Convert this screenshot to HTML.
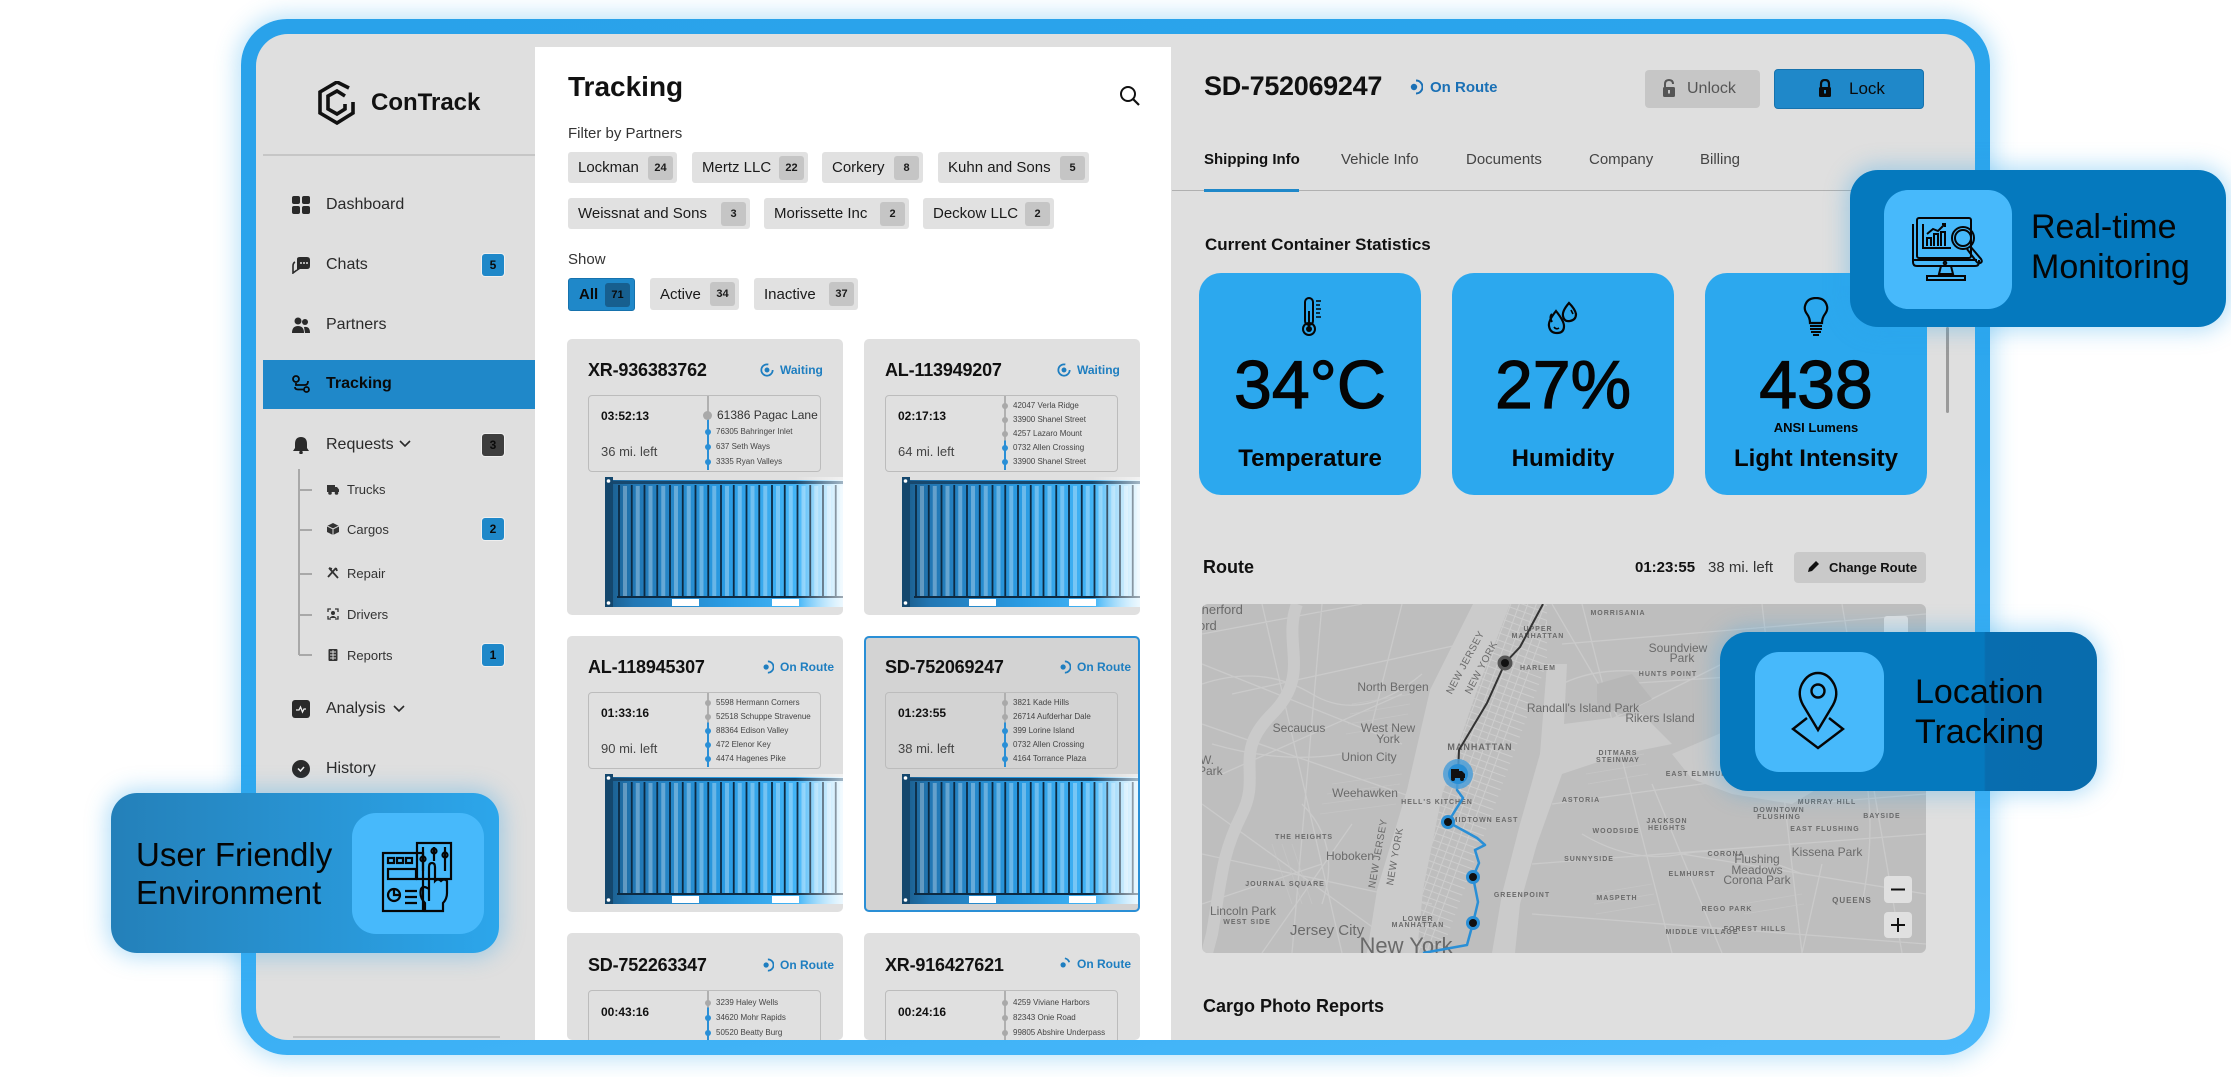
<!DOCTYPE html>
<html><head><meta charset="utf-8">
<style>
*{box-sizing:border-box;margin:0;padding:0}
body{width:2231px;height:1077px;background:#fff;overflow:hidden;position:relative;font-family:"Liberation Sans",Arial,sans-serif;color:#111}
.a{position:absolute}
.t{position:absolute;white-space:nowrap;line-height:1}
.frame{position:absolute;left:241px;top:19px;width:1749px;height:1036px;border-radius:46px;background:linear-gradient(170deg,#29a2ea 0%,#2ea8ef 55%,#4ab9fb 100%);box-shadow:0 0 22px 5px rgba(43,164,234,.30)}
.screen{position:absolute;left:256px;top:34px;width:1719px;height:1006px;border-radius:32px;background:#dfdfdf;overflow:hidden}
.page{position:absolute;left:-256px;top:-34px;width:2231px;height:1077px;overflow:hidden}
.mi{position:absolute;left:326px;font-size:16px;line-height:16px;color:#2a2a2a;white-space:nowrap}
.ic{position:absolute;left:292px;width:18px;height:18px}
.si{position:absolute;left:347px;font-size:13px;line-height:13px;color:#333;white-space:nowrap}
.sic{position:absolute;left:327px;width:12px;height:12px}
.bd{position:absolute;left:482px;width:22px;height:22px;border-radius:3px;background:#1f88c9;font-size:12px;font-weight:bold;line-height:22px;text-align:center;color:#0a0a0a;box-shadow:0 0 0 1px rgba(255,255,255,.5)}
.chip{position:absolute;height:31px;background:#e1e1e1;border-radius:3px;display:flex;align-items:center;justify-content:space-between;padding:0 4px 0 10px;font-size:15px;color:#1a1a1a;white-space:nowrap}
.chip b{display:block;width:25px;height:24px;background:#c5c5c5;border-radius:3px;font-size:11px;line-height:24px;text-align:center;color:#1a1a1a}
.card{position:absolute;width:276px;height:276px;background:#e0e0e0;border-radius:5px;overflow:hidden}
.ct{position:absolute;left:21px;top:22px;font-size:18px;font-weight:bold;line-height:18px;letter-spacing:-.2px;white-space:nowrap}
.st{position:absolute;left:193px;top:24px;height:14px;display:flex;align-items:center;gap:6px;font-size:12px;color:#1e7ec0;font-weight:bold;white-space:nowrap}
.ib{position:absolute;left:21px;top:56px;width:233px;height:77px;border:1.5px solid #bcbcbc;border-radius:4px}
.tm{position:absolute;left:12px;top:14px;font-size:12px;line-height:12px;font-weight:bold;white-space:nowrap}
.ml{position:absolute;left:12px;top:49px;font-size:13px;line-height:13px;color:#444;white-space:nowrap}
.vl{position:absolute;left:118px;top:0;width:2px;height:74px}
.ad{position:absolute;left:116px;font-size:8px;line-height:8px;color:#444;display:flex;align-items:center;gap:5px;white-space:nowrap}
.ad i{display:block;width:6px;height:6px;border-radius:50%;background:#2a8fd6}
.ad i.g{background:#a9a9a9}
.cont{position:absolute;left:38px;top:138px;width:238px;height:130px}
.tab{position:absolute;top:152px;font-size:15px;line-height:15px;color:#444;white-space:nowrap}
.sc{position:absolute;top:273px;width:222px;height:222px;border-radius:22px;background:#2ca8ee}
.sc .ico{position:absolute;left:91px;top:24px;width:40px;height:40px}
.sc .num{position:absolute;left:0;width:100%;top:78px;font-size:68px;line-height:68px;text-align:center;color:#050505;-webkit-text-stroke:1.2px #050505}
.sc .lb{position:absolute;left:0;width:100%;top:174px;font-size:24px;line-height:24px;font-weight:bold;text-align:center;color:#050505}
.feat{position:absolute;border-radius:28px;box-shadow:0 0 22px 4px rgba(43,164,234,.35)}
.fbox{position:absolute;border-radius:24px;background:#47b9fb}
.ft{position:absolute;font-size:34px;line-height:40px;color:#050505;white-space:nowrap}
</style></head><body>

<div class="frame"></div>
<div class="screen"><div class="page">

<!-- SIDEBAR -->
<svg class="a" style="left:318px;top:81px" width="38" height="44" viewBox="0 0 38 44">
<polyline points="31,7 19,1 2,11 2,32 19,42 35,32 35,21" fill="none" stroke="#111" stroke-width="3.6" stroke-linejoin="miter"/>
<polyline points="27,15 19,10 10,15 10,28 19,33 27,28 27,23" fill="none" stroke="#111" stroke-width="3.6"/>
</svg>
<div class="t" style="left:371px;top:91px;font-size:24px;font-weight:bold;color:#111">ConTrack</div>
<div class="a" style="left:263px;top:154px;width:272px;height:2px;background:#c6c6c6"></div>

<svg class="ic" style="top:196px" viewBox="0 0 18 18"><rect x="0" y="0" width="8" height="8" rx="2" fill="#2a2a2a"/><rect x="10" y="0" width="8" height="8" rx="2" fill="#2a2a2a"/><rect x="0" y="10" width="8" height="8" rx="2" fill="#2a2a2a"/><rect x="10" y="10" width="8" height="8" rx="2" fill="#2a2a2a"/></svg>
<div class="mi" style="top:197px">Dashboard</div>

<svg class="ic" style="top:256px" viewBox="0 0 18 18"><path d="M5 3 Q5 1 8 1 H15 Q18 1 18 4 V10 Q18 13 15 13 H8 L5 15 Z" fill="#2a2a2a"/><path d="M3 6 Q1 7 1 10 V17 L5 14" fill="none" stroke="#2a2a2a" stroke-width="1.6"/><circle cx="9" cy="7" r="1" fill="#ddd"/><circle cx="12" cy="7" r="1" fill="#ddd"/><circle cx="15" cy="7" r="1" fill="#ddd"/></svg>
<div class="mi" style="top:257px">Chats</div>
<div class="bd" style="top:254px">5</div>

<svg class="ic" style="top:316px" viewBox="0 0 18 18"><circle cx="6" cy="5" r="3.5" fill="#2a2a2a"/><circle cx="13" cy="6" r="3" fill="#2a2a2a"/><path d="M0 17 Q0 10 6 10 Q12 10 12 17 Z" fill="#2a2a2a"/><path d="M12 11 Q18 10 18 17 H13 Z" fill="#2a2a2a"/></svg>
<div class="mi" style="top:317px">Partners</div>

<div class="a" style="left:263px;top:360px;width:272px;height:49px;background:#1f88c9"></div>
<svg class="ic" style="top:375px" viewBox="0 0 18 18"><circle cx="4" cy="4" r="3" fill="none" stroke="#0a0a0a" stroke-width="1.8"/><circle cx="14.5" cy="14.5" r="2.5" fill="none" stroke="#0a0a0a" stroke-width="1.8"/><path d="M4 8 V10 H13 Q16 10 16 6 M12 14.5 H6 Q3 14.5 3 12" fill="none" stroke="#0a0a0a" stroke-width="1.8"/></svg>
<div class="mi" style="top:376px;font-weight:bold;color:#0a0a0a">Tracking</div>

<svg class="ic" style="top:436px" viewBox="0 0 18 18"><path d="M9 1 Q3 1 3 8 V12 L1 15 H17 L15 12 V8 Q15 1 9 1 Z" fill="#2a2a2a"/><circle cx="9" cy="16.5" r="1.8" fill="#2a2a2a"/></svg>
<div class="mi" style="top:437px">Requests</div>
<svg class="a" style="left:399px;top:440px" width="12" height="8" viewBox="0 0 12 8"><path d="M1 1 L6 6 L11 1" fill="none" stroke="#2a2a2a" stroke-width="1.6"/></svg>
<div class="bd" style="top:434px;background:#3e3e3e">3</div>

<div class="a" style="left:298px;top:469px;width:1.5px;height:186px;background:#a8a8a8"></div>
<div class="a" style="left:299px;top:489px;width:13px;height:1.5px;background:#a8a8a8"></div>
<div class="a" style="left:299px;top:529px;width:13px;height:1.5px;background:#a8a8a8"></div>
<div class="a" style="left:299px;top:573px;width:13px;height:1.5px;background:#a8a8a8"></div>
<div class="a" style="left:299px;top:614px;width:13px;height:1.5px;background:#a8a8a8"></div>
<div class="a" style="left:299px;top:654px;width:13px;height:1.5px;background:#a8a8a8"></div>

<svg class="sic" style="top:483px" viewBox="0 0 12 12"><rect x="0" y="2" width="8" height="7" fill="#333"/><path d="M8 4 H10 L12 6.5 V9 H8 Z" fill="#333"/><circle cx="3" cy="10" r="1.8" fill="#333"/><circle cx="9.5" cy="10" r="1.8" fill="#333"/></svg>
<div class="si" style="top:483px">Trucks</div>
<svg class="sic" style="top:523px" viewBox="0 0 12 12"><path d="M6 0 L12 3 V9 L6 12 L0 9 V3 Z" fill="#333"/><path d="M0 3 L6 6 L12 3 M6 6 V12" stroke="#ddd" stroke-width="1" fill="none"/></svg>
<div class="si" style="top:523px">Cargos</div>
<div class="bd" style="top:518px">2</div>
<svg class="sic" style="top:567px" viewBox="0 0 12 12"><path d="M2 1 L11 11 M9 1 L1 10 M2 1 L5 2 M9 1 L10 4" stroke="#333" stroke-width="1.8" fill="none"/></svg>
<div class="si" style="top:567px">Repair</div>
<svg class="sic" style="top:608px" viewBox="0 0 12 12"><path d="M1 4 V1 H4 M8 1 H11 V4 M11 8 V11 H8 M4 11 H1 V8" stroke="#333" stroke-width="1.3" fill="none"/><circle cx="6" cy="5" r="2" fill="#333"/><path d="M2.5 10 Q6 6 9.5 10 Z" fill="#333"/></svg>
<div class="si" style="top:608px">Drivers</div>
<svg class="sic" style="top:649px" viewBox="0 0 12 12"><rect x="1.5" y="0" width="9" height="12" rx="1" fill="#333"/><path d="M3 3 H9 M3 6 H9 M3 9 H9 M6 1 V11" stroke="#ddd" stroke-width=".9"/></svg>
<div class="si" style="top:649px">Reports</div>
<div class="bd" style="top:644px">1</div>

<svg class="ic" style="top:700px" viewBox="0 0 18 18"><rect x="0" y="0" width="18" height="18" rx="3" fill="#2a2a2a"/><path d="M4 10 L7 10 L8.5 7 L10.5 12 L12 9 L14 9" fill="none" stroke="#eee" stroke-width="1.3"/></svg>
<div class="mi" style="top:701px">Analysis</div>
<svg class="a" style="left:393px;top:705px" width="12" height="8" viewBox="0 0 12 8"><path d="M1 1 L6 6 L11 1" fill="none" stroke="#2a2a2a" stroke-width="1.6"/></svg>

<svg class="ic" style="top:760px" viewBox="0 0 18 18"><circle cx="9" cy="9" r="9" fill="#2a2a2a"/><path d="M6 8.5 L8.5 11 L12 7" fill="none" stroke="#eee" stroke-width="1.5"/></svg>
<div class="mi" style="top:761px">History</div>

<div class="a" style="left:293px;top:1036px;width:207px;height:1.5px;background:#c4c4c4"></div>

<!-- MIDDLE PANEL -->
<div class="a" style="left:535px;top:47px;width:636px;height:1000px;background:#fff"></div>
<div class="t" style="left:568px;top:73px;font-size:28px;font-weight:bold">Tracking</div>
<svg class="a" style="left:1119px;top:85px" width="22" height="22" viewBox="0 0 22 22"><circle cx="9" cy="9" r="7" fill="none" stroke="#111" stroke-width="2"/><path d="M14 14 L20 20" stroke="#111" stroke-width="2.2"/></svg>
<div class="t" style="left:568px;top:126px;font-size:15px;color:#333">Filter by Partners</div>

<div class="chip" style="left:568px;top:152px;width:109px">Lockman<b>24</b></div>
<div class="chip" style="left:692px;top:152px;width:116px">Mertz LLC<b>22</b></div>
<div class="chip" style="left:822px;top:152px;width:101px">Corkery<b>8</b></div>
<div class="chip" style="left:938px;top:152px;width:151px">Kuhn and Sons<b>5</b></div>
<div class="chip" style="left:568px;top:198px;width:182px">Weissnat and Sons<b>3</b></div>
<div class="chip" style="left:764px;top:198px;width:145px">Morissette Inc<b>2</b></div>
<div class="chip" style="left:923px;top:198px;width:131px">Deckow LLC<b>2</b></div>
<div class="t" style="left:568px;top:252px;font-size:15px;color:#333">Show</div>
<div class="chip" style="left:568px;top:278px;width:67px;height:33px;background:#1f88c9;border:1px solid #1672ad;font-weight:bold;color:#0a0a0a">All<b style="background:#175f8f;color:#0a0a0a">71</b></div>
<div class="chip" style="left:650px;top:278px;width:89px;height:32px">Active<b>34</b></div>
<div class="chip" style="left:754px;top:278px;width:104px;height:32px">Inactive<b>37</b></div>

<!-- Card 1 -->
<div class="card" style="left:567px;top:339px">
 <div class="ct">XR-936383762</div>
 <div class="st"><svg width="14" height="14" viewBox="0 0 16 16"><circle cx="8" cy="8" r="6.5" fill="none" stroke="#1e7ec0" stroke-width="2" stroke-dasharray="32 9"/><circle cx="8" cy="8" r="2.8" fill="#1e7ec0"/></svg><span>Waiting</span></div>
 <div class="ib">
  <div class="tm">03:52:13</div><div class="ml">36 mi. left</div>
  <div class="vl" style="background:linear-gradient(#b0b0b0 0 26%,#2a8fd6 26%)"></div>
  <div class="ad" style="top:13px;font-size:12px;line-height:12px;left:114px;color:#333"><i class="g" style="width:9px;height:9px"></i>61386 Pagac Lane</div>
  <div class="ad" style="top:32px"><i></i>76305 Bahringer Inlet</div>
  <div class="ad" style="top:47px"><i></i>637 Seth Ways</div>
  <div class="ad" style="top:62px"><i></i>3335 Ryan Valleys</div>
 </div>
 <svg class="cont" viewBox="0 0 238 130"><defs><linearGradient id="cg1" x1="0" x2="1"><stop offset="0" stop-color="#1a5a88"/><stop offset=".12" stop-color="#2277b4"/><stop offset=".5" stop-color="#2a9be2"/><stop offset=".82" stop-color="#45b6f7"/><stop offset="1" stop-color="#d4f0ff"/></linearGradient><linearGradient id="fd1" x1="0" x2="1"><stop offset="0" stop-color="#fff" stop-opacity="0"/><stop offset="1" stop-color="#fff" stop-opacity=".6"/></linearGradient></defs><rect x="0" y="3" width="238" height="127" fill="url(#cg1)"/><path d="M20 9V119M32.75 9V119M45.5 9V119M58.25 9V119M71 9V119M83.75 9V119M96.5 9V119M109.25 9V119M122 9V119M134.75 9V119M147.5 9V119M160.25 9V119M173 9V119M185.75 9V119M198.5 9V119M211.25 9V119M224 9V119M236.75 9V119" stroke="#fff" stroke-opacity=".3" stroke-width="4"/><path d="M14 8V120M26.75 8V120M39.5 8V120M52.25 8V120M65 8V120M77.75 8V120M90.5 8V120M103.25 8V120M116 8V120M128.75 8V120M141.5 8V120M154.25 8V120M167 8V120M179.75 8V120M192.5 8V120M205.25 8V120M218 8V120M230.75 8V120" stroke="#0d2a42" stroke-width="1.8"/><path d="M8 5.5H238" stroke="#17486e" stroke-width="3"/><path d="M12 120H238" stroke="#0d2a42" stroke-width="2"/><rect x="67" y="122" width="27" height="7" fill="#fff"/><rect x="167" y="122" width="27" height="7" fill="#fff"/><rect x="0" y="0" width="8" height="130" fill="#14476d"/><circle cx="3.5" cy="4" r="1.8" fill="#fff"/><circle cx="3.5" cy="126" r="1.8" fill="#fff"/><rect x="190" y="0" width="48" height="130" fill="url(#fd1)"/></svg>
</div>

<!-- Card 2 -->
<div class="card" style="left:864px;top:339px">
 <div class="ct">AL-113949207</div>
 <div class="st"><svg width="14" height="14" viewBox="0 0 16 16"><circle cx="8" cy="8" r="6.5" fill="none" stroke="#1e7ec0" stroke-width="2" stroke-dasharray="32 9"/><circle cx="8" cy="8" r="2.8" fill="#1e7ec0"/></svg><span>Waiting</span></div>
 <div class="ib">
  <div class="tm">02:17:13</div><div class="ml">64 mi. left</div>
  <div class="vl" style="background:linear-gradient(#b0b0b0 0 60%,#2a8fd6 60%)"></div>
  <div class="ad" style="top:6px"><i class="g"></i>42047 Verla Ridge</div>
  <div class="ad" style="top:20px"><i class="g"></i>33900 Shanel Street</div>
  <div class="ad" style="top:34px"><i class="g"></i>4257 Lazaro Mount</div>
  <div class="ad" style="top:48px"><i></i>0732 Allen Crossing</div>
  <div class="ad" style="top:62px"><i></i>33900 Shanel Street</div>
 </div>
 <svg class="cont" viewBox="0 0 238 130"><defs><linearGradient id="cg2" x1="0" x2="1"><stop offset="0" stop-color="#1a5a88"/><stop offset=".12" stop-color="#2277b4"/><stop offset=".5" stop-color="#2a9be2"/><stop offset=".82" stop-color="#45b6f7"/><stop offset="1" stop-color="#d4f0ff"/></linearGradient><linearGradient id="fd2" x1="0" x2="1"><stop offset="0" stop-color="#fff" stop-opacity="0"/><stop offset="1" stop-color="#fff" stop-opacity=".6"/></linearGradient></defs><rect x="0" y="3" width="238" height="127" fill="url(#cg2)"/><path d="M20 9V119M32.75 9V119M45.5 9V119M58.25 9V119M71 9V119M83.75 9V119M96.5 9V119M109.25 9V119M122 9V119M134.75 9V119M147.5 9V119M160.25 9V119M173 9V119M185.75 9V119M198.5 9V119M211.25 9V119M224 9V119M236.75 9V119" stroke="#fff" stroke-opacity=".3" stroke-width="4"/><path d="M14 8V120M26.75 8V120M39.5 8V120M52.25 8V120M65 8V120M77.75 8V120M90.5 8V120M103.25 8V120M116 8V120M128.75 8V120M141.5 8V120M154.25 8V120M167 8V120M179.75 8V120M192.5 8V120M205.25 8V120M218 8V120M230.75 8V120" stroke="#0d2a42" stroke-width="1.8"/><path d="M8 5.5H238" stroke="#17486e" stroke-width="3"/><path d="M12 120H238" stroke="#0d2a42" stroke-width="2"/><rect x="67" y="122" width="27" height="7" fill="#fff"/><rect x="167" y="122" width="27" height="7" fill="#fff"/><rect x="0" y="0" width="8" height="130" fill="#14476d"/><circle cx="3.5" cy="4" r="1.8" fill="#fff"/><circle cx="3.5" cy="126" r="1.8" fill="#fff"/><rect x="190" y="0" width="48" height="130" fill="url(#fd2)"/></svg>
</div>

<!-- Card 3 -->
<div class="card" style="left:567px;top:636px">
 <div class="ct">AL-118945307</div>
 <div class="st"><svg width="14" height="14" viewBox="0 0 16 16"><path d="M9 1.5 A6.5 6.5 0 0 1 9 14.5" fill="none" stroke="#1e7ec0" stroke-width="2"/><circle cx="7" cy="8" r="3" fill="#1e7ec0"/></svg><span>On Route</span></div>
 <div class="ib">
  <div class="tm">01:33:16</div><div class="ml">90 mi. left</div>
  <div class="vl" style="background:linear-gradient(#b0b0b0 0 40%,#2a8fd6 40%)"></div>
  <div class="ad" style="top:6px"><i class="g"></i>5598 Hermann Corners</div>
  <div class="ad" style="top:20px"><i class="g"></i>52518 Schuppe Stravenue</div>
  <div class="ad" style="top:34px"><i></i>88364 Edison Valley</div>
  <div class="ad" style="top:48px"><i></i>472 Elenor Key</div>
  <div class="ad" style="top:62px"><i></i>4474 Hagenes Pike</div>
 </div>
 <svg class="cont" viewBox="0 0 238 130"><defs><linearGradient id="cg3" x1="0" x2="1"><stop offset="0" stop-color="#1a5a88"/><stop offset=".12" stop-color="#2277b4"/><stop offset=".5" stop-color="#2a9be2"/><stop offset=".82" stop-color="#45b6f7"/><stop offset="1" stop-color="#d4f0ff"/></linearGradient><linearGradient id="fd3" x1="0" x2="1"><stop offset="0" stop-color="#fff" stop-opacity="0"/><stop offset="1" stop-color="#fff" stop-opacity=".6"/></linearGradient></defs><rect x="0" y="3" width="238" height="127" fill="url(#cg3)"/><path d="M20 9V119M32.75 9V119M45.5 9V119M58.25 9V119M71 9V119M83.75 9V119M96.5 9V119M109.25 9V119M122 9V119M134.75 9V119M147.5 9V119M160.25 9V119M173 9V119M185.75 9V119M198.5 9V119M211.25 9V119M224 9V119M236.75 9V119" stroke="#fff" stroke-opacity=".3" stroke-width="4"/><path d="M14 8V120M26.75 8V120M39.5 8V120M52.25 8V120M65 8V120M77.75 8V120M90.5 8V120M103.25 8V120M116 8V120M128.75 8V120M141.5 8V120M154.25 8V120M167 8V120M179.75 8V120M192.5 8V120M205.25 8V120M218 8V120M230.75 8V120" stroke="#0d2a42" stroke-width="1.8"/><path d="M8 5.5H238" stroke="#17486e" stroke-width="3"/><path d="M12 120H238" stroke="#0d2a42" stroke-width="2"/><rect x="67" y="122" width="27" height="7" fill="#fff"/><rect x="167" y="122" width="27" height="7" fill="#fff"/><rect x="0" y="0" width="8" height="130" fill="#14476d"/><circle cx="3.5" cy="4" r="1.8" fill="#fff"/><circle cx="3.5" cy="126" r="1.8" fill="#fff"/><rect x="190" y="0" width="48" height="130" fill="url(#fd3)"/></svg>
</div>

<!-- Card 4 (selected) -->
<div class="card" style="left:864px;top:636px;background:#d3d3d3;box-shadow:inset 0 0 0 2px #2a8fd6">
 <div class="ct">SD-752069247</div>
 <div class="st"><svg width="14" height="14" viewBox="0 0 16 16"><path d="M9 1.5 A6.5 6.5 0 0 1 9 14.5" fill="none" stroke="#1e7ec0" stroke-width="2"/><circle cx="7" cy="8" r="3" fill="#1e7ec0"/></svg><span>On Route</span></div>
 <div class="ib">
  <div class="tm">01:23:55</div><div class="ml">38 mi. left</div>
  <div class="vl" style="background:linear-gradient(#b0b0b0 0 40%,#2a8fd6 40%)"></div>
  <div class="ad" style="top:6px"><i class="g"></i>3821 Kade Hills</div>
  <div class="ad" style="top:20px"><i class="g"></i>26714 Aufderhar Dale</div>
  <div class="ad" style="top:34px"><i></i>399 Lorine Island</div>
  <div class="ad" style="top:48px"><i></i>0732 Allen Crossing</div>
  <div class="ad" style="top:62px"><i></i>4164 Torrance Plaza</div>
 </div>
 <svg class="cont" style="width:236px" viewBox="0 0 236 130" preserveAspectRatio="xMinYMin slice"><defs><linearGradient id="cg4" x1="0" x2="1"><stop offset="0" stop-color="#1a5a88"/><stop offset=".12" stop-color="#2277b4"/><stop offset=".5" stop-color="#2a9be2"/><stop offset=".82" stop-color="#45b6f7"/><stop offset="1" stop-color="#d4f0ff"/></linearGradient><linearGradient id="fd4" x1="0" x2="1"><stop offset="0" stop-color="#fff" stop-opacity="0"/><stop offset="1" stop-color="#fff" stop-opacity=".6"/></linearGradient></defs><rect x="0" y="3" width="238" height="127" fill="url(#cg4)"/><path d="M20 9V119M32.75 9V119M45.5 9V119M58.25 9V119M71 9V119M83.75 9V119M96.5 9V119M109.25 9V119M122 9V119M134.75 9V119M147.5 9V119M160.25 9V119M173 9V119M185.75 9V119M198.5 9V119M211.25 9V119M224 9V119" stroke="#fff" stroke-opacity=".3" stroke-width="4"/><path d="M14 8V120M26.75 8V120M39.5 8V120M52.25 8V120M65 8V120M77.75 8V120M90.5 8V120M103.25 8V120M116 8V120M128.75 8V120M141.5 8V120M154.25 8V120M167 8V120M179.75 8V120M192.5 8V120M205.25 8V120M218 8V120M230.75 8V120" stroke="#0d2a42" stroke-width="1.8"/><path d="M8 5.5H238" stroke="#17486e" stroke-width="3"/><path d="M12 120H238" stroke="#0d2a42" stroke-width="2"/><rect x="67" y="122" width="27" height="7" fill="#fff"/><rect x="167" y="122" width="27" height="7" fill="#fff"/><rect x="0" y="0" width="8" height="130" fill="#14476d"/><circle cx="3.5" cy="4" r="1.8" fill="#fff"/><circle cx="3.5" cy="126" r="1.8" fill="#fff"/><rect x="188" y="0" width="48" height="130" fill="url(#fd4)"/></svg>
</div>

<!-- Card 5 -->
<div class="card" style="left:567px;top:933px;height:107px">
 <div class="ct" style="top:23px">SD-752263347</div>
 <div class="st" style="top:25px"><svg width="14" height="14" viewBox="0 0 16 16"><path d="M9 1.5 A6.5 6.5 0 0 1 9 14.5" fill="none" stroke="#1e7ec0" stroke-width="2"/><circle cx="7" cy="8" r="3" fill="#1e7ec0"/></svg><span>On Route</span></div>
 <div class="ib" style="top:57px">
  <div class="tm" style="top:15px">00:43:16</div>
  <div class="vl" style="background:linear-gradient(#b0b0b0 0 22%,#2a8fd6 22%)"></div>
  <div class="ad" style="top:8px"><i class="g"></i>3239 Haley Wells</div>
  <div class="ad" style="top:23px"><i></i>34620 Mohr Rapids</div>
  <div class="ad" style="top:38px"><i></i>50520 Beatty Burg</div>
 </div>
</div>

<!-- Card 6 -->
<div class="card" style="left:864px;top:933px;height:107px">
 <div class="ct" style="top:23px">XR-916427621</div>
 <div class="st" style="top:24px"><svg width="14" height="14" viewBox="0 0 16 16"><path d="M9 1.5 A6.5 6.5 0 0 1 14 6" fill="none" stroke="#1e7ec0" stroke-width="2"/><circle cx="7" cy="9" r="3" fill="#1e7ec0"/></svg><span>On Route</span></div>
 <div class="ib" style="top:57px">
  <div class="tm" style="top:15px">00:24:16</div>
  <div class="vl" style="background:#b0b0b0"></div>
  <div class="ad" style="top:8px"><i class="g"></i>4259 Viviane Harbors</div>
  <div class="ad" style="top:23px"><i class="g"></i>82343 Onie Road</div>
  <div class="ad" style="top:38px"><i class="g"></i>99805 Abshire Underpass</div>
 </div>
</div>

<!-- RIGHT PANEL -->
<div class="t" style="left:1204px;top:73px;font-size:27px;font-weight:bold;letter-spacing:-.3px">SD-752069247</div>
<svg class="a" style="left:1407px;top:79px" width="16" height="16" viewBox="0 0 16 16"><path d="M9 1.5 A6.5 6.5 0 0 1 9 14.5" fill="none" stroke="#1a70b5" stroke-width="2"/><circle cx="7" cy="8" r="3.2" fill="#1a70b5"/></svg>
<div class="t" style="left:1430px;top:80px;font-size:15px;font-weight:bold;color:#1a70b5">On Route</div>

<div class="a" style="left:1645px;top:70px;width:115px;height:38px;background:#c6c6c6;border-radius:4px"></div>
<svg class="a" style="left:1662px;top:79px" width="14" height="19" viewBox="0 0 14 19"><path d="M3 8 V5 Q3 1 7 1 Q11 1 11 5" fill="none" stroke="#555" stroke-width="2"/><rect x="1" y="8" width="12" height="10" rx="1.5" fill="#555"/><rect x="6" y="11" width="2" height="3.5" fill="#c6c6c6"/></svg>
<div class="t" style="left:1687px;top:81px;font-size:16px;color:#555">Unlock</div>
<div class="a" style="left:1774px;top:69px;width:150px;height:40px;background:#1f88c9;border:1px solid #1672ad;border-radius:4px"></div>
<svg class="a" style="left:1818px;top:79px" width="14" height="19" viewBox="0 0 14 19"><path d="M3 8 V5 Q3 1 7 1 Q11 1 11 5 V8" fill="none" stroke="#0a0a0a" stroke-width="2.2"/><rect x="1" y="8" width="12" height="10" rx="1.5" fill="#0a0a0a"/><rect x="6" y="11" width="2" height="3.5" fill="#1f88c9"/></svg>
<div class="t" style="left:1849px;top:80px;font-size:17px;color:#0a0a0a">Lock</div>

<div class="tab" style="left:1204px;font-weight:bold;color:#111">Shipping Info</div>
<div class="tab" style="left:1341px">Vehicle Info</div>
<div class="tab" style="left:1466px">Documents</div>
<div class="tab" style="left:1589px">Company</div>
<div class="tab" style="left:1700px">Billing</div>
<div class="a" style="left:1172px;top:190px;width:803px;height:1px;background:#b0b0b0"></div>
<div class="a" style="left:1204px;top:189px;width:95px;height:3px;background:#1f88c9"></div>

<div class="t" style="left:1205px;top:236px;font-size:17px;font-weight:bold">Current Container Statistics</div>

<div class="sc" style="left:1199px">
 <svg class="ico" viewBox="0 0 40 40"><rect x="15" y="1" width="8" height="27" rx="4" fill="none" stroke="#050505" stroke-width="2"/><circle cx="19" cy="32" r="6" fill="none" stroke="#050505" stroke-width="2"/><circle cx="19" cy="32" r="3" fill="#050505"/><path d="M19 14 V30" stroke="#050505" stroke-width="2"/><path d="M26 4 H31 M26 8 H30 M26 12 H31 M26 16 H30 M26 20 H31" stroke="#050505" stroke-width="1.6"/></svg>
 <div class="num">34°C</div><div class="lb">Temperature</div>
</div>
<div class="sc" style="left:1452px">
 <svg class="ico" viewBox="0 0 40 40"><path d="M13 14 Q5 24 6 29 Q7 36 14 36 Q21 36 21 29 Q21 24 13 14 Z" fill="none" stroke="#050505" stroke-width="2.2"/><path d="M26 6 Q19 14 20 19 Q21 25 27 24 Q33 23 33 17 Q32 12 26 6 Z" fill="none" stroke="#050505" stroke-width="2.2"/><path d="M9 25 Q6 20 9 17" fill="none" stroke="#050505" stroke-width="2"/><path d="M11 30 Q13 33 16 31" fill="none" stroke="#050505" stroke-width="1.6"/><path d="M28 13 L30 17" stroke="#050505" stroke-width="1.6"/></svg>
 <div class="num">27%</div><div class="lb">Humidity</div>
</div>
<div class="sc" style="left:1705px">
 <svg class="ico" viewBox="0 0 40 40"><path d="M14 26 Q14 21 11 17 Q8 13 9 9 Q11 1 20 1 Q29 1 31 9 Q32 13 29 17 Q26 21 26 26 Z" fill="none" stroke="#050505" stroke-width="2.2"/><path d="M14 29 H26 M14 32 H26 M15 35 H25 M17 38 H23" stroke="#050505" stroke-width="2"/></svg>
 <div class="num">438</div>
 <div class="t" style="left:0;width:100%;top:148px;font-size:13px;font-weight:bold;text-align:center;color:#050505">ANSI Lumens</div>
 <div class="lb">Light Intensity</div>
</div>
<div class="a" style="left:1946px;top:327px;width:3px;height:86px;background:#9a9a9a;border-radius:2px"></div>

<div class="t" style="left:1203px;top:558px;font-size:18px;font-weight:bold">Route</div>
<div class="t" style="left:1635px;top:560px;font-size:15px;font-weight:bold">01:23:55</div>
<div class="t" style="left:1708px;top:560px;font-size:15px;color:#333">38 mi. left</div>
<div class="a" style="left:1794px;top:552px;width:132px;height:31px;background:#c9c9c9;border-radius:4px"></div>
<svg class="a" style="left:1807px;top:560px" width="13" height="13" viewBox="0 0 13 13"><path d="M1 12 L2 8 L9 1 L12 4 L5 11 Z" fill="#111"/></svg>
<div class="t" style="left:1829px;top:561px;font-size:13px;font-weight:bold">Change Route</div>

<!-- MAP -->
<svg class="a" style="left:1202px;top:604px;border-radius:6px" width="724" height="349" viewBox="0 0 724 349" font-family="Liberation Sans, Arial, sans-serif">
<defs><clipPath id="mh"><polygon points="308,0 345,0 345,60 338,150 318,220 300,290 290,349 215,349 221,286 241,186 275,86"/></clipPath></defs>
<rect width="724" height="349" fill="#bebebe"/>
<g stroke="#cccccc" stroke-width="1.3" fill="none" opacity=".9">
<path d="M0 60 L200 140 M0 120 L230 200 M60 0 L140 349 M0 250 L230 300 M350 200 L724 150 M330 260 L724 230 M380 0 L470 349 M420 80 L724 60 M0 200 L180 330 M120 0 L90 349 M560 0 L600 349 M640 0 L700 349 M330 310 L724 340 M450 180 L520 349 M0 30 L160 0 M30 90 L260 40 M20 170 L200 90 M150 220 L60 349 M360 40 L724 10 M400 120 L520 60 M600 200 L724 190 M480 250 L724 290 M350 0 L420 120 M200 0 L170 120 M0 300 L120 260 M620 260 L600 349 M520 120 L724 110"/>
<path d="M0 80 Q60 60 110 90 T220 70 M10 140 Q80 160 140 150 M100 200 Q140 240 120 300 M380 230 Q430 260 480 250 T600 270 M360 80 Q400 60 460 70 M650 120 Q680 200 660 300" />
</g>
<g stroke="#c7c7c7" stroke-width=".8" opacity=".8">
<path d="M130 180 L200 170 M125 190 L198 180 M120 200 L196 190 M118 210 L194 200 M150 100 L210 90 M148 110 L208 100 M146 120 L206 110 M144 130 L204 120 M380 150 L440 140 M382 160 L442 150 M384 170 L444 160 M386 180 L446 170 M390 290 L450 280 M392 300 L452 290 M394 310 L454 300 M540 300 L600 290 M542 310 L602 300 M70 240 L90 300 M80 240 L100 300 M90 240 L110 300"/>
</g>
<path d="M95 0 C80 40 110 70 70 110 S60 170 40 210 S20 270 10 330 L5 349" fill="none" stroke="#cacaca" stroke-width="12"/>
<polygon points="271,0 308,0 275,86 241,186 221,286 215,349 165,349 175,286 205,186 228,86" fill="#cbcbcb"/>
<polygon points="345,60 365,60 362,120 440,110 470,140 420,150 360,170 335,240 318,300 313,349 290,349 300,290 318,220 338,150" fill="#cbcbcb"/>
<polygon points="470,150 540,120 600,130 640,170 590,200 530,190 490,175" fill="#cacaca"/>
<polygon points="395,80 430,70 450,95 420,110 395,100" fill="#b7b7b7"/>
<g clip-path="url(#mh)" stroke="#cdcdcd" stroke-width="1">
<g transform="translate(260,175) rotate(-70)">
<path d="M-220 -30 H260 M-220 -22 H260 M-220 -14 H260 M-220 -6 H260 M-220 2 H260 M-220 10 H260 M-220 18 H260 M-220 26 H260"/>
<path d="M-200 -40V40M-193 -40V40M-186 -40V40M-179 -40V40M-172 -40V40M-165 -40V40M-158 -40V40M-151 -40V40M-144 -40V40M-137 -40V40M-130 -40V40M-123 -40V40M-116 -40V40M-109 -40V40M-102 -40V40M-95 -40V40M-88 -40V40M-81 -40V40M-74 -40V40M-67 -40V40M-60 -40V40M-53 -40V40M-46 -40V40M-39 -40V40M-32 -40V40M-25 -40V40M-18 -40V40M-11 -40V40M-4 -40V40M3 -40V40M10 -40V40M17 -40V40M24 -40V40M31 -40V40M38 -40V40M45 -40V40M52 -40V40M59 -40V40M66 -40V40M73 -40V40M80 -40V40M87 -40V40M94 -40V40M101 -40V40M108 -40V40M115 -40V40M122 -40V40M129 -40V40M136 -40V40M143 -40V40M150 -40V40M157 -40V40M164 -40V40M171 -40V40M178 -40V40M185 -40V40M192 -40V40M199 -40V40"/>
</g></g>
<g fill="#6a6a6a" font-size="12">
<text x="-4" y="10" font-size="13">therford</text><text x="-4" y="26" font-size="13">ord</text>
<text x="191" y="87" text-anchor="middle">North Bergen</text>
<text x="97" y="128" text-anchor="middle">Secaucus</text>
<text x="186" y="128" text-anchor="middle">West New</text><text x="186" y="139" text-anchor="middle">York</text>
<text x="167" y="157" text-anchor="middle">Union City</text>
<text x="-2" y="160">W.</text><text x="-4" y="171">Park</text>
<text x="163" y="193" text-anchor="middle">Weehawken</text>
<text x="148" y="256" text-anchor="middle">Hoboken</text>
<text x="41" y="311" text-anchor="middle">Lincoln Park</text>
<text x="125" y="331" text-anchor="middle" font-size="15">Jersey City</text>
<text x="204" y="349" text-anchor="middle" font-size="22">New York</text>
<text x="381" y="108" text-anchor="middle">Randall's Island Park</text>
<text x="458" y="118" text-anchor="middle">Rikers Island</text>
<text x="476" y="48" text-anchor="middle">Soundview</text><text x="480" y="58" text-anchor="middle">Park</text>
</g>
<g fill="#6a6a6a" font-size="7" font-weight="bold" letter-spacing="1" text-anchor="middle">
<text x="235" y="200">HELL'S KITCHEN</text><text x="283" y="218">MIDTOWN EAST</text>
<text x="102" y="235">THE HEIGHTS</text><text x="83" y="282">JOURNAL SQUARE</text>
<text x="45" y="320">WEST SIDE</text><text x="216" y="317">LOWER</text><text x="216" y="323">MANHATTAN</text>
<text x="320" y="293">GREENPOINT</text><text x="415" y="296">MASPETH</text><text x="387" y="257">SUNNYSIDE</text>
<text x="414" y="229">WOODSIDE</text><text x="465" y="219">JACKSON</text><text x="465" y="226">HEIGHTS</text>
<text x="379" y="198">ASTORIA</text><text x="416" y="151">DITMARS</text><text x="416" y="158">STEINWAY</text>
<text x="500" y="172">EAST ELMHURST</text><text x="336" y="66">HARLEM</text>
<text x="336" y="27">UPPER</text><text x="336" y="34">MANHATTAN</text><text x="416" y="11">MORRISANIA</text>
<text x="466" y="72">HUNTS POINT</text><text x="490" y="272">ELMHURST</text><text x="500" y="330">MIDDLE VILLAGE</text>
<text x="524" y="252">CORONA</text><text x="525" y="307">REGO PARK</text><text x="553" y="327">FOREST HILLS</text>
<text x="650" y="299" font-size="8">QUEENS</text><text x="680" y="214">BAYSIDE</text><text x="623" y="227">EAST FLUSHING</text>
<text x="625" y="200">MURRAY HILL</text><text x="577" y="208">DOWNTOWN</text><text x="577" y="215">FLUSHING</text>
<text x="278" y="146" font-size="9">MANHATTAN</text>
</g>
<g fill="#6a6a6a" font-size="12" text-anchor="middle">
<text x="555" y="259">Flushing</text><text x="555" y="270">Meadows</text><text x="555" y="280">Corona Park</text>
<text x="625" y="252">Kissena Park</text>
</g>
<g fill="#6a6a6a" font-size="10" letter-spacing=".5">
<text transform="translate(266,60) rotate(-62)" text-anchor="middle">NEW JERSEY</text>
<text transform="translate(282,65) rotate(-62)" text-anchor="middle">NEW YORK</text>
<text transform="translate(179,250) rotate(-80)" text-anchor="middle">NEW JERSEY</text>
<text transform="translate(196,253) rotate(-80)" text-anchor="middle">NEW YORK</text>
</g>
<polyline points="341,0 318,43 303,59 285,99 257,146 256,170" fill="none" stroke="#333" stroke-width="2"/>
<polyline points="256,170 255,186 261,194 246,218 275,234 283,241 273,246 277,259 271,273 276,298 271,319 265,341 221,349" fill="none" stroke="#2a8fd6" stroke-width="2.5" stroke-linejoin="round"/>
<circle cx="303" cy="59" r="7.5" fill="#555"/><circle cx="303" cy="59" r="4" fill="#111"/>
<circle cx="246" cy="218" r="7" fill="#2a8fd6"/><circle cx="246" cy="218" r="4" fill="#111"/>
<circle cx="271" cy="273" r="7" fill="#2a8fd6"/><circle cx="271" cy="273" r="4" fill="#111"/>
<circle cx="271" cy="319" r="7" fill="#2a8fd6"/><circle cx="271" cy="319" r="4" fill="#111"/>
<circle cx="256" cy="170" r="15" fill="#4e9fd8" opacity=".85"/><circle cx="256" cy="170" r="10" fill="#2a8fd6"/>
<path d="M249 165 H257 V174 H249 Z M257 167 H260 L263 170 V174 H257 Z" fill="#111"/><circle cx="251" cy="175" r="2" fill="#111"/><circle cx="260" cy="175" r="2" fill="#111"/>
<rect x="682" y="272" width="28" height="27" rx="4" fill="#e0e0e0"/><path d="M689 285.5 H703" stroke="#111" stroke-width="2"/>
<rect x="682" y="308" width="28" height="26" rx="4" fill="#e0e0e0"/><path d="M689 321 H703 M696 314 V328" stroke="#111" stroke-width="2"/>
<rect x="682" y="12" width="24" height="22" rx="3" fill="#e0e0e0"/>
</svg>

<div class="t" style="left:1203px;top:997px;font-size:18px;font-weight:bold">Cargo Photo Reports</div>

</div></div>

<!-- FEATURE CARDS -->
<div class="feat" style="left:111px;top:793px;width:388px;height:160px;border-radius:26px;background:linear-gradient(90deg,#2480b9,#2ca6eb)"></div>
<div class="fbox" style="left:352px;top:813px;width:132px;height:121px"></div>
<svg class="a" style="left:381px;top:841px" width="72" height="72" viewBox="0 0 72 72"><g fill="none" stroke="#050505" stroke-width="2.2"><rect x="2" y="12" width="40" height="58"/><rect x="7" y="17" width="6" height="5"/><rect x="16" y="17" width="6" height="5"/><rect x="25" y="17" width="6" height="5"/><rect x="7" y="28" width="28" height="10"/><circle cx="13" cy="54" r="6"/><path d="M13 48 V54 H19"/><path d="M24 50 H36 M24 56 H36 M24 62 H36"/><rect x="36" y="2" width="34" height="36"/><path d="M42 6 V30 M53 6 V20 M64 6 V30"/><circle cx="42" cy="18" r="2.5"/><circle cx="53" cy="10" r="2.5"/><circle cx="64" cy="14" r="2.5"/><path d="M48 60 V26 Q48 22 51 22 Q54 22 54 26 V40 Q57 37 60 40 Q63 37 66 40 V52 Q66 58 62 62 V70 H44 V62 Q38 56 40 48 Q42 44 48 48"/></g></svg>
<div class="ft" style="left:136px;top:835px;font-size:33px">User Friendly</div>
<div class="ft" style="left:136px;top:873px;font-size:33px">Environment</div>

<div class="feat" style="left:1850px;top:170px;width:376px;height:157px;background:#0579be"></div>
<div class="fbox" style="left:1884px;top:190px;width:128px;height:119px"></div>
<svg class="a" style="left:1911px;top:214px" width="76" height="70" viewBox="0 0 76 70"><g fill="none" stroke="#050505" stroke-width="2"><rect x="6" y="4" width="54" height="40" rx="2"/><path d="M2 10 V48 Q2 52 6 52 H64 Q68 52 68 48 V46"/><path d="M2 46 H66"/><circle cx="34" cy="49" r="1.3"/><path d="M30 52 L28 60 H42 L40 52 M16 62 H54 V66 H16 Z"/><path d="M12 10 V34 H40"/><path d="M16 32 V24 H20 V32 M23 32 V20 H27 V32 M30 32 V18 H34 V32"/><path d="M16 20 L22 15 L27 17 L34 10 M31 10 H34 V13"/><circle cx="52" cy="24" r="11"/><circle cx="52" cy="24" r="8"/><path d="M59 32 L70 45 Q72 48 69 49 Q67 50 65 47 L56 35"/></g></svg>
<div class="ft" style="left:2031px;top:207px">Real-time</div>
<div class="ft" style="left:2031px;top:247px">Monitoring</div>

<div class="feat" style="left:1720px;top:632px;width:377px;height:159px;background:linear-gradient(90deg,#0579be 0%,#0579be 70%,#086daf 70.5%,#086cad 100%)"></div>
<div class="fbox" style="left:1755px;top:652px;width:129px;height:120px"></div>
<svg class="a" style="left:1790px;top:670px" width="60" height="84" viewBox="0 0 60 84"><g fill="none" stroke="#050505" stroke-width="2.4"><path d="M28 60 L13 35 Q7 24 12 14 Q18 3 28 3 Q38 3 44 14 Q49 24 43 35 Z"/><circle cx="28" cy="21" r="6.5"/><path d="M17 48 L3 59 L28 78 L53 59 L39 48"/></g></svg>
<div class="ft" style="left:1915px;top:672px">Location</div>
<div class="ft" style="left:1915px;top:712px">Tracking</div>

</body></html>
